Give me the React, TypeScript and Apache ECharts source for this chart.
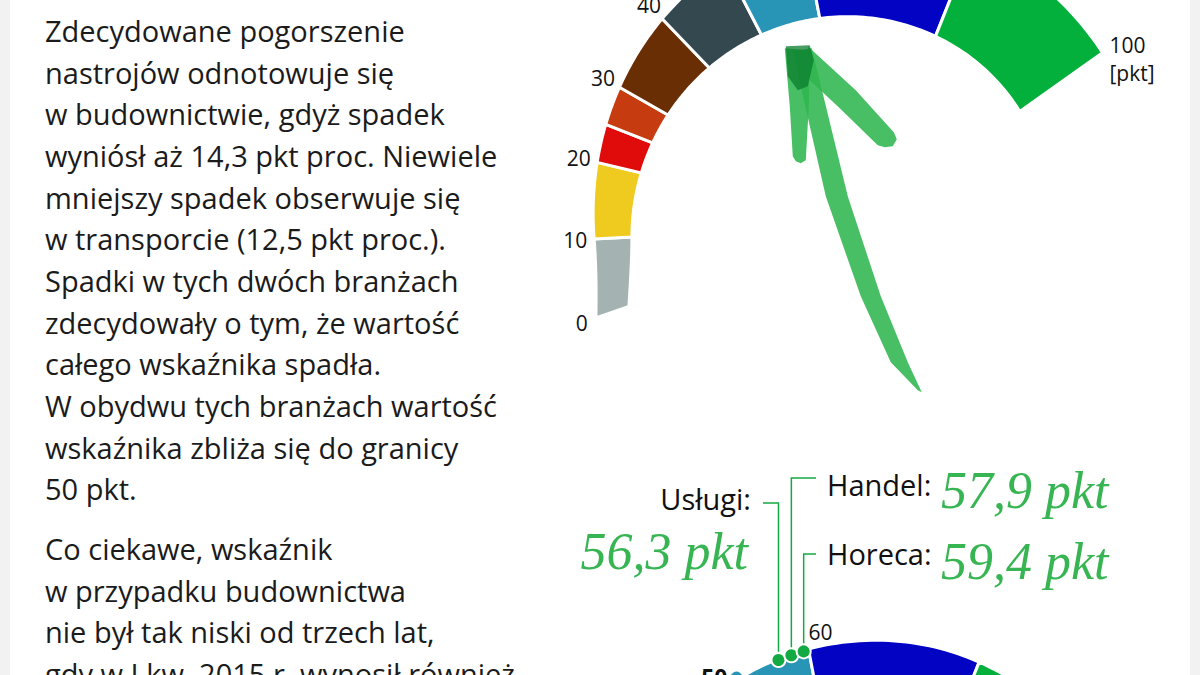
import React, { useEffect, useRef } from 'react';
import * as echarts from 'echarts';

// ---------- data ----------
const bandEdges = [0, 10, 20, 25, 30, 40, 50, 60, 80, 100];
const bandColors = ['#a4b3b2', '#efca1f', '#e00b0b', '#c63c10', '#6a2e04', '#34494f', '#2895b6', '#0303c4', '#03b03c'];
const scaleTicks = [0, 10, 20, 30, 40];
const scaleEnd = 100;
const scaleUnit = '[pkt]';
const overallValue = 55;
const sectorNames = ['Usługi', 'Handel', 'Horeca'];
const sectorValues = [56.3, 57.9, 59.4];
const lowerTicks = [50, 60];

const paragraphOne = [
  'Zdecydowane pogorszenie',
  'nastrojów odnotowuje się',
  'w budownictwie, gdyż spadek',
  'wyniósł aż 14,3 pkt proc. Niewiele',
  'mniejszy spadek obserwuje się',
  'w transporcie (12,5 pkt proc.).',
  'Spadki w tych dwóch branżach',
  'zdecydowały o tym, że wartość',
  'całego wskaźnika spadła.',
  'W obydwu tych branżach wartość',
  'wskaźnika zbliża się do granicy',
  '50 pkt.',
];
const paragraphTwo = [
  'Co ciekawe, wskaźnik',
  'w przypadku budownictwa',
  'nie był tak niski od trzech lat,',
  'gdy w I kw. 2015 r. wynosił również',
];

// ---------- geometry / style ----------
const START_ANGLE = 199.4;
const DEG_PER_POINT = 1.64;
const innerRadius = (v: number) => 232 - 0.36 * v + 13 * Math.pow(Math.max(0, 1 - v / 10), 2);
const bandThickness = (v: number) => {
  const s = Math.min(1, Math.max(0, v / 80));
  return 35 + 66.5 * s * s * (3 - 2 * s);
};
const outerRadius = (v: number) => innerRadius(v) + bandThickness(v);

const FONT = '"Open Sans", "Noto Sans", sans-serif';
const HAND = '"Liberation Serif", serif';
const GREEN = '#14aa43';
const HAND_GREEN = '#38b553';

const leaderLayout = [
  { lineY: 503, endX: 763, align: 'right', nameX: 751, nameY: 498, valueX: 748, valueY: 551 },
  { lineY: 478, endX: 816, align: 'left', nameX: 827, nameY: 484, valueX: 941, valueY: 490 },
  { lineY: 554, endX: 816, align: 'left', nameX: 827, nameY: 553, valueX: 941, valueY: 561 },
];

const fmt = (v: number) => String(v).replace('.', ',');

function txt(text: string, x: number, y: number, font: string, fill: string, align = 'center', vAlign = 'middle', extra: any = {}) {
  return {
    type: 'text',
    style: {
      text, x, y, font, fill,
      align, verticalAlign: vAlign,
      textAlign: align, textVerticalAlign: vAlign,
      ...extra,
    },
  };
}

function bandsSeries(polarIndex: number) {
  return {
    type: 'custom',
    coordinateSystem: 'polar',
    polarIndex,
    silent: true,
    data: bandColors.map((_, i) => [bandEdges[i], bandEdges[i + 1]]),
    renderItem: (params: any, api: any) => {
      const a = api.value(0);
      const b = api.value(1);
      const n = 30;
      const pts: number[][] = [];
      for (let k = 0; k <= n; k++) {
        const v = a + ((b - a) * k) / n;
        const c = api.coord([innerRadius(v), v]);
        pts.push([c[0], c[1]]);
      }
      for (let k = n; k >= 0; k--) {
        const v = a + ((b - a) * k) / n;
        const c = api.coord([outerRadius(v), v]);
        pts.push([c[0], c[1]]);
      }
      return {
        type: 'polygon',
        shape: { points: pts },
        style: { fill: bandColors[params.dataIndex], stroke: '#ffffff', lineWidth: 3 },
      };
    },
  };
}

export default function App() {
  const ref = useRef<HTMLDivElement>(null);

  useEffect(() => {
    if (!ref.current) return;
    const chart = echarts.init(ref.current, undefined, { renderer: 'svg' });

    const axisHidden = {
      axisLine: { show: false },
      axisTick: { show: false },
      axisLabel: { show: false },
      splitLine: { show: false },
    };

    const paraStyle = {
      x: 45,
      font: `29px ${FONT}`,
      fill: '#1b1b1b',
      lineHeight: 41.67,
      align: 'left', verticalAlign: 'top',
      textAlign: 'left', textVerticalAlign: 'top',
    };

    const option: any = {
      animation: false,
      backgroundColor: '#ffffff',
      polar: [
        { center: [860, 225], radius: [0, 420] },
        { center: [866, 945], radius: [0, 420] },
      ],
      angleAxis: [0, 1].map((i) => ({
        polarIndex: i,
        type: 'value',
        min: 0,
        max: 360 / DEG_PER_POINT,
        startAngle: START_ANGLE,
        clockwise: true,
        ...axisHidden,
      })),
      radiusAxis: [0, 1].map((i) => ({
        polarIndex: i,
        type: 'value',
        min: 0,
        max: 420,
        ...axisHidden,
      })),
      graphic: [
        { type: 'rect', shape: { x: 0, y: 0, width: 10, height: 675 }, style: { fill: '#f2f2f2' } },
        { type: 'rect', shape: { x: 1190, y: 0, width: 10, height: 675 }, style: { fill: '#f2f2f2' } },
        { type: 'text', style: { ...paraStyle, text: paragraphOne.join('\n'), y: 9.5 } },
        { type: 'text', style: { ...paraStyle, text: paragraphTwo.join('\n'), y: 527.8 } },
      ],
      series: [
        bandsSeries(0),
        bandsSeries(1),
        // upper scale labels
        {
          type: 'custom',
          coordinateSystem: 'polar',
          polarIndex: 0,
          silent: true,
          data: scaleTicks.map((v) => [v, v]),
          renderItem: (params: any, api: any) => {
            const v = api.value(1);
            const c = api.coord([outerRadius(v) + (v === 0 ? 15 : 19), v]);
            return txt(String(v), c[0], c[1], `21px ${FONT}`, '#111111');
          },
        },
        {
          type: 'custom',
          coordinateSystem: 'polar',
          polarIndex: 0,
          silent: true,
          data: [[scaleEnd, scaleEnd]],
          renderItem: (params: any, api: any) => {
            const v = api.value(1);
            const c = api.coord([outerRadius(v), v]);
            return txt(`${v}\n${scaleUnit}`, c[0] + 7, c[1] + 6, `21px ${FONT}`, '#111111', 'left', 'middle', { lineHeight: 28 });
          },
        },
        // hand-drawn arrow pointing at the overall value
        {
          type: 'custom',
          coordinateSystem: 'polar',
          polarIndex: 0,
          silent: true,
          z: 5,
          data: [[overallValue, overallValue]],
          renderItem: (params: any, api: any) => {
            const v = api.value(1);
            const t = api.coord([innerRadius(v) - 23, v]);
            const P = (pts: number[][]) => pts.map((p) => [t[0] + p[0], t[1] + p[1]]);
            const brush = { fill: '#2fb64f', opacity: 0.88 };
            return {
              type: 'group',
              children: [
                {
                  type: 'polygon',
                  shape: { points: P([[-5, 5], [28, 150], [63, 250], [93, 316], [120, 344], [124, 346], [110, 316], [83, 250], [50, 150], [14, 2]]) },
                  style: brush,
                },
                {
                  type: 'polygon',
                  shape: { points: P([[-13, 2], [-8, 60], [-5, 110], [-2, 115], [3, 117], [8, 114], [11, 60], [12, 4]]) },
                  style: brush,
                },
                {
                  type: 'polygon',
                  shape: { points: P([[10, 0], [58, 44], [96, 86], [99, 93], [95, 100], [87, 101], [80, 99], [42, 62], [12, 34]]) },
                  style: brush,
                },
                {
                  type: 'polygon',
                  shape: { points: P([[-12, 0], [12, -1], [16, 14], [10, 40], [0, 44], [-10, 30]]) },
                  style: { fill: '#0b7c2e', opacity: 0.75 },
                },
              ],
            };
          },
        },
        // lower gauge ticks (50 dot + labels)
        {
          type: 'custom',
          coordinateSystem: 'polar',
          polarIndex: 1,
          silent: true,
          z: 4,
          data: lowerTicks.map((v) => [v, v]),
          renderItem: (params: any, api: any) => {
            const v = api.value(1);
            const c = api.coord([outerRadius(v), v]);
            if (params.dataIndex === 0) {
              return {
                type: 'group',
                children: [
                  { type: 'circle', shape: { cx: c[0] + 6, cy: c[1] - 6, r: 7 }, style: { fill: bandColors[6], stroke: '#ffffff', lineWidth: 2 } },
                  txt(String(v), c[0] - 3, c[1] - 7, `bold 23px ${FONT}`, '#111111', 'right', 'middle'),
                ],
              };
            }
            return txt(String(v), c[0], c[1] - 17, `21px ${FONT}`, '#111111', 'left', 'middle');
          },
        },
        // sector markers with leaders
        {
          type: 'custom',
          coordinateSystem: 'polar',
          polarIndex: 1,
          silent: true,
          z: 6,
          data: sectorValues.map((v) => [v, v]),
          renderItem: (params: any, api: any) => {
            const i = params.dataIndex;
            const v = api.value(1);
            const c = api.coord([outerRadius(v) - 1, v]);
            const L = leaderLayout[i];
            return {
              type: 'group',
              children: [
                {
                  type: 'polyline',
                  shape: { points: [[c[0], c[1]], [c[0], L.lineY], [L.endX, L.lineY]] },
                  style: { stroke: GREEN, lineWidth: 1.5, fill: 'none' },
                },
                { type: 'circle', shape: { cx: c[0], cy: c[1], r: 7 }, style: { fill: GREEN, stroke: '#ffffff', lineWidth: 2 } },
                txt(`${sectorNames[i]}:`, L.nameX, L.nameY, `29px ${FONT}`, '#111111', L.align, 'middle'),
                txt(`${fmt(v)} pkt`, L.valueX, L.valueY, `italic 52px ${HAND}`, HAND_GREEN, L.align, 'middle'),
              ],
            };
          },
        },
      ],
    };

    chart.setOption(option);
    return () => chart.dispose();
  }, []);

  return (
    <div
      ref={ref}
      style={{ position: 'fixed', left: 0, top: 0, width: 1200, height: 675, background: '#ffffff' }}
    />
  );
}
